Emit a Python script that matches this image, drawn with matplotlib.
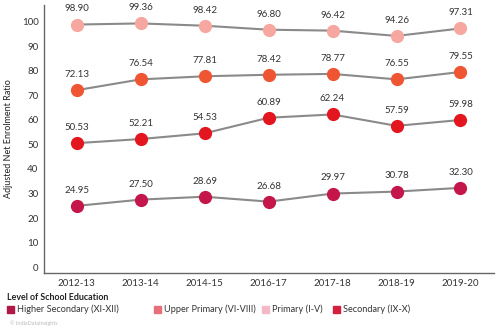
import matplotlib
matplotlib.use("Agg")
import matplotlib.pyplot as plt
from matplotlib.patches import Rectangle

plt.rcParams["font.family"] = ["Lato", "DejaVu Sans"]

years = ["2012-13", "2013-14", "2014-15", "2016-17", "2017-18", "2018-19", "2019-20"]
primary = [98.90, 99.36, 98.42, 96.80, 96.42, 94.26, 97.31]
upper_primary = [72.13, 76.54, 77.81, 78.42, 78.77, 76.55, 79.55]
secondary = [50.53, 52.21, 54.53, 60.89, 62.24, 57.59, 59.98]
higher_secondary = [24.95, 27.50, 28.69, 26.68, 29.97, 30.78, 32.30]

series = [
    (primary, "#f6a79f"),
    (upper_primary, "#ef5533"),
    (secondary, "#e3161f"),
    (higher_secondary, "#c4164a"),
]

legend_labels = ["Higher Secondary (XI-XII)", "Upper Primary (VI-VIII)",
                 "Primary (I-V)", "Secondary (IX-X)"]
legend_colors = ["#b01848", "#e8707a", "#f2b8c6", "#d4203e"]

fig = plt.figure(figsize=(4.97, 3.29), dpi=100)
ax = fig.add_axes([0.0885, 0.170, 0.905, 0.815])

x = list(range(len(years)))
for vals, col in series:
    ax.plot(x, vals, color="#8a8a8a", lw=1.5, zorder=2)
    ax.plot(x, vals, "o", color=col, ms=8.5, mec=col, zorder=3)
    for xi, v in zip(x, vals):
        ax.annotate(f"{v:.2f}", (xi, v), xytext=(0, 8), textcoords="offset points",
                    ha="center", va="bottom", fontsize=7, color="#333333")

ax.set_xlim(-0.51, 6.52)
ax.set_ylim(-2.45, 106.9)
ax.set_yticks(range(0, 101, 10))
ax.set_xticks(x)
ax.set_xticklabels(years)
ax.tick_params(length=0, labelsize=7, colors="#333333", pad=4)
for s in ["top", "right"]:
    ax.spines[s].set_visible(False)
for s in ["left", "bottom"]:
    ax.spines[s].set_color("#666666")
    ax.spines[s].set_linewidth(1.0)
ax.set_ylabel("Adjusted Net Enrolment Ratio", fontsize=6.5, color="#222222", labelpad=6)

# legend, laid out by hand like the source
W, H = 497, 329
fig.text(7 / W, 1 - 297 / H, "Level of School Education", fontsize=6.4,
         fontweight="bold", color="#222222", va="center")
for px, lab, col in zip([7, 154, 262, 333], legend_labels, legend_colors):
    fig.patches.append(Rectangle((px / W, 1 - 313 / H), 7 / W, 7 / H,
                                 transform=fig.transFigure, color=col))
    fig.text((px + 10) / W, 1 - 309.5 / H, lab, fontsize=6.6, color="#333333",
             va="center")
fig.text(10 / W, 1 - 323 / H, "© IndiaDataInsights", fontsize=4, color="#bbbbbb",
         va="center")

fig.savefig("out.png", dpi=100)
